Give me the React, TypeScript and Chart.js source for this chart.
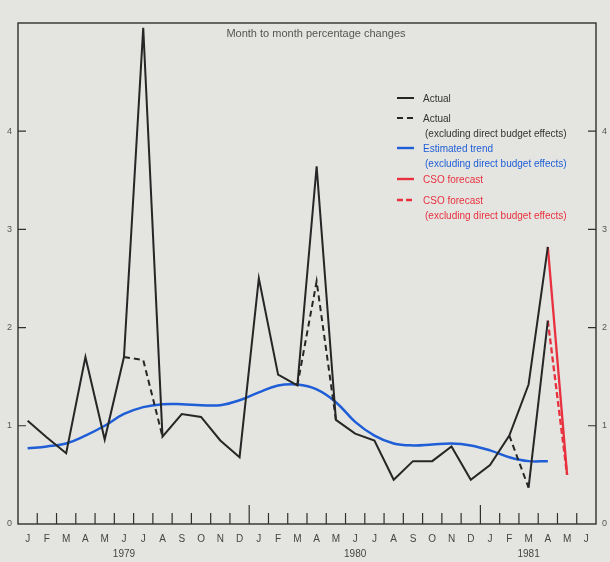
import { useEffect, useRef } from 'react';
import { Chart, registerables } from 'chart.js';

Chart.register(...registerables);

const months = [
  'J', 'F', 'M', 'A', 'M', 'J', 'J', 'A', 'S', 'O', 'N', 'D',
  'J', 'F', 'M', 'A', 'M', 'J', 'J', 'A', 'S', 'O', 'N', 'D',
  'J', 'F', 'M', 'A', 'M', 'J',
];
const yearByIndex: Record<number, string> = { 5: '1979', 17: '1980', 26: '1981' };

const actual = [
  1.05, 0.88, 0.72, 1.70, 0.86, 1.70, 5.05, 0.89, 1.12, 1.09, 0.85, 0.68,
  2.50, 1.52, 1.41, 3.64, 1.06, 0.92, 0.85, 0.45, 0.64, 0.64, 0.79, 0.45,
  0.60, 0.90, 1.42, 2.82, null, null,
];
const actualExcl = [
  null, null, null, null, null, 1.70, 1.67, 0.89, null, null, null, null,
  null, null, 1.41, 2.47, 1.06, null, null, null, null, null, null, null,
  null, 0.90, 0.37, 2.07, null, null,
];
const trend = [
  0.77, 0.79, 0.82, 0.90, 1.00, 1.12, 1.19, 1.22, 1.22, 1.21, 1.21, 1.26,
  1.34, 1.41, 1.42, 1.37, 1.24, 1.04, 0.90, 0.82, 0.80, 0.81, 0.82, 0.80,
  0.75, 0.68, 0.64, 0.64, null, null,
];
const forecast = [
  null, null, null, null, null, null, null, null, null, null, null, null,
  null, null, null, null, null, null, null, null, null, null, null, null,
  null, null, null, 2.82, 0.50, null,
];
const forecastExcl = [
  null, null, null, null, null, null, null, null, null, null, null, null,
  null, null, null, null, null, null, null, null, null, null, null, null,
  null, null, null, 2.07, 0.50, null,
];
const yTicks = [0, 1, 2, 3, 4];

const titleText = 'Month to month percentage changes';
const BLACK = '#262626';
const BLUE = '#1f5ed6';
const RED = '#e8303f';

const legendItems = [
  { color: BLACK, dash: [] as number[], lines: ['Actual'] },
  { color: BLACK, dash: [6, 4], lines: ['Actual', '(excluding direct budget effects)'] },
  { color: BLUE, dash: [] as number[], lines: ['Estimated trend', '(excluding direct budget effects)'] },
  { color: RED, dash: [] as number[], lines: ['CSO forecast'] },
  { color: RED, dash: [6, 3], lines: ['CSO forecast', '(excluding direct budget effects)'] },
];

const FONT = '"Liberation Sans", Arial, sans-serif';

const decor = {
  id: 'decor',
  beforeDatasetsDraw(chart: any) {
    const { ctx, chartArea: a, scales } = chart;
    const x = scales.x;
    const y = scales.y;
    ctx.save();
    ctx.strokeStyle = '#303030';
    ctx.lineWidth = 1.4;
    ctx.strokeRect(a.left, a.top, a.right - a.left, a.bottom - a.top);
    ctx.lineWidth = 1.2;
    for (let i = 0; i < months.length - 1; i++) {
      const px = (x.getPixelForValue(i) + x.getPixelForValue(i + 1)) / 2;
      const len = i === 11 || i === 23 ? 19 : 11;
      ctx.beginPath();
      ctx.moveTo(px, a.bottom);
      ctx.lineTo(px, a.bottom - len);
      ctx.stroke();
    }
    for (const v of yTicks) {
      if (v === 0) continue;
      const py = y.getPixelForValue(v);
      ctx.beginPath();
      ctx.moveTo(a.left, py);
      ctx.lineTo(a.left + 8, py);
      ctx.moveTo(a.right - 8, py);
      ctx.lineTo(a.right, py);
      ctx.stroke();
    }
    ctx.restore();
  },
  afterDatasetsDraw(chart: any) {
    const { ctx, chartArea: a } = chart;
    ctx.save();
    ctx.fillStyle = '#555';
    ctx.font = `11px ${FONT}`;
    ctx.textAlign = 'center';
    ctx.textBaseline = 'middle';
    ctx.fillText(titleText, 316, a.top + 11);

    ctx.font = `10px ${FONT}`;
    ctx.textAlign = 'left';
    const rows = [99, 119, 149, 180, 201];
    legendItems.forEach((it, k) => {
      const yy = rows[k];
      ctx.strokeStyle = it.color;
      ctx.lineWidth = it.color === BLACK ? 2 : 2.4;
      ctx.setLineDash(it.dash);
      ctx.beginPath();
      ctx.moveTo(397, yy - 1);
      ctx.lineTo(414, yy - 1);
      ctx.stroke();
      ctx.setLineDash([]);
      ctx.fillStyle = it.color === BLACK ? '#333' : it.color;
      it.lines.forEach((t, j) => {
        ctx.fillText(t, j === 0 ? 423 : 425, yy + j * 15);
      });
    });
    ctx.restore();
  },
};

export default function App() {
  const ref = useRef<HTMLCanvasElement | null>(null);
  useEffect(() => {
    if (!ref.current) return;
    Chart.defaults.font.family = FONT;
    const yOpts = (pos: 'left' | 'right', w: number) => ({
      type: 'linear' as const,
      position: pos,
      min: 0,
      max: 5.1,
      grid: { display: false, drawTicks: false },
      border: { display: false },
      afterBuildTicks: (s: any) => {
        s.ticks = yTicks.map((v) => ({ value: v }));
      },
      afterFit: (s: any) => {
        s.width = w;
      },
      ticks: { color: '#555', font: { size: 9 }, padding: pos === 'left' ? 6 : 6 },
    });
    const chart = new Chart(ref.current, {
      type: 'line',
      data: {
        labels: months,
        datasets: [
          {
            label: 'Actual',
            data: actual,
            borderColor: BLACK,
            borderWidth: 2,
            pointRadius: 0,
            tension: 0,
            spanGaps: false,
          },
          {
            label: 'Actual (excluding direct budget effects)',
            data: actualExcl,
            borderColor: BLACK,
            borderWidth: 2,
            borderDash: [6, 4],
            pointRadius: 0,
            tension: 0,
            spanGaps: false,
            segment: {
              borderDash: (c: any) => (c.p0DataIndex === 26 ? [] : undefined),
            },
          },
          {
            label: 'Estimated trend (excluding direct budget effects)',
            data: trend,
            borderColor: BLUE,
            borderWidth: 2.5,
            pointRadius: 0,
            tension: 0.4,
            spanGaps: false,
          },
          {
            label: 'CSO forecast',
            data: forecast,
            borderColor: RED,
            borderWidth: 2.3,
            pointRadius: 0,
            tension: 0,
          },
          {
            label: 'CSO forecast (excluding direct budget effects)',
            data: forecastExcl,
            borderColor: RED,
            borderWidth: 2.3,
            borderDash: [6, 3],
            pointRadius: 0,
            tension: 0,
          },
        ],
      },
      options: {
        responsive: false,
        animation: false,
        layout: { padding: { top: 23, left: 0, right: 0, bottom: 0 } },
        plugins: {
          legend: { display: false },
          tooltip: { enabled: false },
          title: { display: false },
        },
        scales: {
          x: {
            type: 'category',
            offset: true,
            grid: { display: false, offset: true, drawTicks: false },
            border: { display: false },
            afterFit: (s: any) => {
              s.height = 38;
            },
            ticks: {
              autoSkip: false,
              maxRotation: 0,
              padding: 8,
              color: '#444',
              font: { size: 10, lineHeight: 1.45 },
              callback: (_v: any, i: number) =>
                yearByIndex[i] ? [months[i], yearByIndex[i]] : months[i],
            },
          },
          y: yOpts('left', 18),
          y2: yOpts('right', 14),
        },
      },
      plugins: [decor],
    } as any);
    return () => chart.destroy();
  }, []);
  return (
    <div
      style={{
        position: 'fixed',
        left: 0,
        top: 0,
        width: 610,
        height: 562,
        background: '#e4e5e0',
      }}
    >
      <canvas ref={ref} width={610} height={562} />
    </div>
  );
}
